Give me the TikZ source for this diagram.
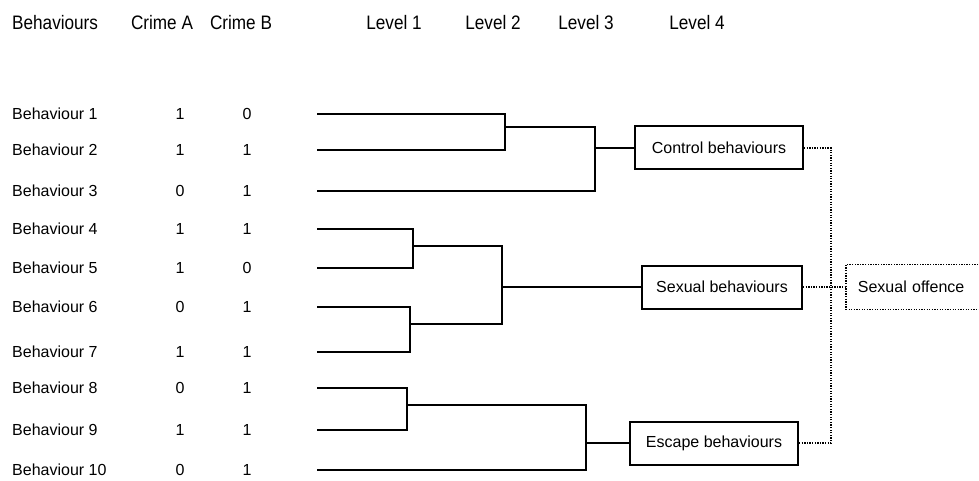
\documentclass[tikz,border=0pt]{standalone}
\usepackage{fontspec}
\setmainfont{Liberation Sans}
\newfontfamily\headfont{Liberation Sans}[FakeStretch=0.88]
\begin{document}
\begin{tikzpicture}[x=1pt,y=-1pt]
        \tikzset{Head/.style={%
                font=\headfont\fontsize{19.5}{22}\selectfont,%
                inner sep=0pt,%
            }}
        \tikzset{Entry/.style={%
                font=\fontsize{16}{19}\selectfont,%
                inner sep=0pt,%
            }}
        \tikzset{Group/.style={%
                shape=rectangle,%
                draw=black,%
                line width=2pt,%
                font=\fontsize{16}{19}\selectfont,%
                minimum height=43pt,%
                inner sep=0pt,%
            }}
        \tikzset{Branch/.style={line width=2.2pt, line cap=rect}}
        \tikzset{Link/.style={line width=1.8pt, dash pattern=on 1.3pt off 1.3pt}}

        \useasboundingbox (0,0) rectangle (979,481);

        % column heads
        \node[Head, anchor=west] (hb) at (12,23) {Behaviours};
        \node[Head] (ha) at (162,23) {Crime A};
        \node[Head] (hc) at (241,23) {Crime B};
        \node[Head] (h1) at (394,23) {Level 1};
        \node[Head] (h2) at (493,23) {Level 2};
        \node[Head] (h3) at (586,23) {Level 3};
        \node[Head] (h4) at (697,23) {Level 4};

        % rows
        \foreach \i/\y/\a/\c in {1/114/1/0, 2/150/1/1, 3/191/0/1, 4/229/1/1, 5/268/1/0,
                                 6/307/0/1, 7/352/1/1, 8/388/0/1, 9/430/1/1, 10/470/0/1} {
            \node[Entry, anchor=west] (b\i) at (12,\y) {Behaviour \i};
            \node[Entry] (a\i) at (180,\y) {\a};
            \node[Entry] (c\i) at (247,\y) {\c};
            \coordinate (l\i) at (318,\y);
        }

        % groups
        \node[Group, minimum width=168pt] (ctrl) at (719,148) {Control behaviours};
        \node[Group, minimum width=160pt] (sex) at (722,287) {Sexual behaviours};
        \node[Group, minimum width=168pt] (esc) at (714,443) {Escape behaviours};
        \node[Group, Link, anchor=west, minimum height=45pt, text width=121pt,
              align=left, inner xsep=12pt] (off) at (845,287) {Sexual offence};

        % joins
        \coordinate (j12) at (505,127);
        \coordinate (jc) at (595,148);
        \coordinate (j45) at (413,246);
        \coordinate (j67) at (410,324);
        \coordinate (js) at (502,287);
        \coordinate (j89) at (407,405);
        \coordinate (je) at (586,443);
        \coordinate (jo) at (831,287);

        \draw[Branch] (l1) -| (j12);
        \draw[Branch] (l2) -| (j12);
        \draw[Branch] (j12) -| (jc);
        \draw[Branch] (l3) -| (jc);
        \draw[Branch] (jc) -- (ctrl.west);

        \draw[Branch] (l4) -| (j45);
        \draw[Branch] (l5) -| (j45);
        \draw[Branch] (l6) -| (j67);
        \draw[Branch] (l7) -| (j67);
        \draw[Branch] (j45) -| (js);
        \draw[Branch] (j67) -| (js);
        \draw[Branch] (js) -- (sex.west);

        \draw[Branch] (l8) -| (j89);
        \draw[Branch] (l9) -| (j89);
        \draw[Branch] (j89) -| (je);
        \draw[Branch] (l10) -| (je);
        \draw[Branch] (je) -- (esc.west);

        \draw[Link] (ctrl.east) -| (jo);
        \draw[Link] (esc.east) -| (jo);
        \draw[Link] (sex.east) -- (off.west);
\end{tikzpicture}
\end{document}
